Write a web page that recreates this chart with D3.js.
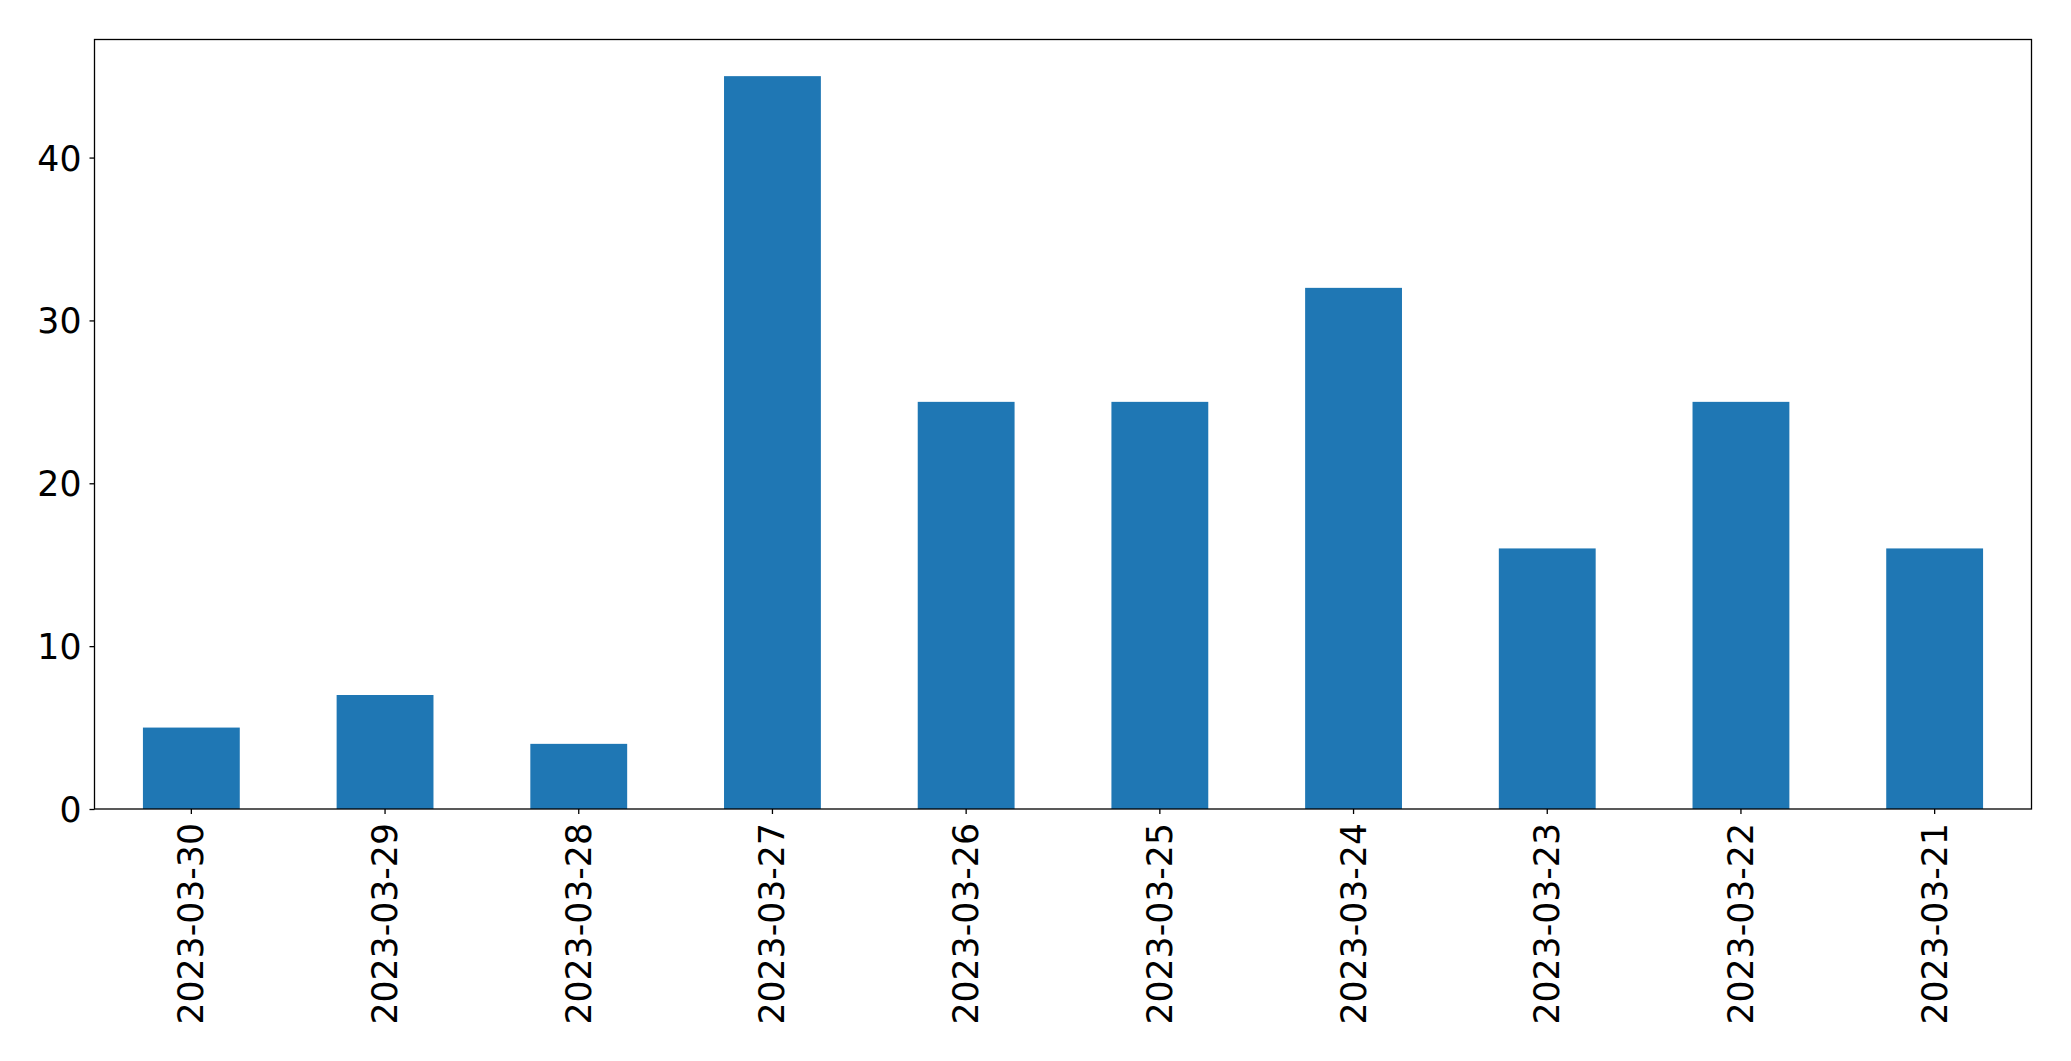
<!DOCTYPE html>
<html>
<head>
<meta charset="utf-8">
<script src="https://cdn.jsdelivr.net/npm/d3@7"></script>
<style>
  html, body { margin: 0; padding: 0; background: #fff; }
  svg { display: block; }
  text { font-family: "DejaVu Sans", sans-serif; fill: #000; }
</style>
</head>
<body>
<svg id="chart" width="2071" height="1061"></svg>
<script>
const categories = ["2023-03-30","2023-03-29","2023-03-28","2023-03-27","2023-03-26","2023-03-25","2023-03-24","2023-03-23","2023-03-22","2023-03-21"];
const values = [5, 7, 4, 45, 25, 25, 32, 16, 25, 16];
const yTicks = [0, 10, 20, 30, 40];

const W = 2071, H = 1061;
const m = { left: 94.5, right: 2031.5, top: 39.5, bottom: 809 };
const svg = d3.select("#chart");

const x = d3.scaleBand().domain(categories).range([m.left, m.right]).paddingInner(0.5).paddingOuter(0.25);
const y = d3.scaleLinear().domain([0, d3.max(values) * 1.05]).range([m.bottom, m.top]);

svg.append("g").selectAll("rect").data(values).join("rect")
  .attr("x", (d, i) => x(categories[i]))
  .attr("width", x.bandwidth())
  .attr("y", d => y(d))
  .attr("height", d => y(0) - y(d))
  .attr("fill", "#1f77b4");

// frame
svg.append("rect")
  .attr("x", m.left).attr("y", m.top)
  .attr("width", m.right - m.left).attr("height", m.bottom - m.top)
  .attr("fill", "none").attr("stroke", "#000").attr("stroke-width", 1.3);

// y axis
const yAxis = d3.axisLeft(y).tickValues(yTicks).tickSize(5).tickPadding(8).tickFormat(d3.format("d"));
const gy = svg.append("g").attr("transform", `translate(${m.left},0)`).call(yAxis);
gy.select(".domain").remove();
gy.selectAll(".tick line").attr("stroke", "#000").attr("stroke-width", 1.3);
gy.selectAll(".tick text").style("font-size", "34.7px").attr("fill", "#000").attr("dy", "0.36em")
  .style("font-family", "'DejaVu Sans', sans-serif");

// x axis
const xAxis = d3.axisBottom(x).tickSize(5).tickPadding(0);
const gx = svg.append("g").attr("transform", `translate(0,${m.bottom})`).call(xAxis);
gx.select(".domain").remove();
gx.selectAll(".tick line").attr("stroke", "#000").attr("stroke-width", 1.3);
gx.selectAll(".tick text")
  .style("font-size", "34.7px").attr("fill", "#000")
  .style("font-family", "'DejaVu Sans', sans-serif")
  .attr("text-anchor", "end")
  .attr("dy", null)
  .attr("transform", "translate(0,14) rotate(-90)")
  .attr("x", 0).attr("y", 0)
  .attr("dominant-baseline", "central");
</script>
</body>
</html>
